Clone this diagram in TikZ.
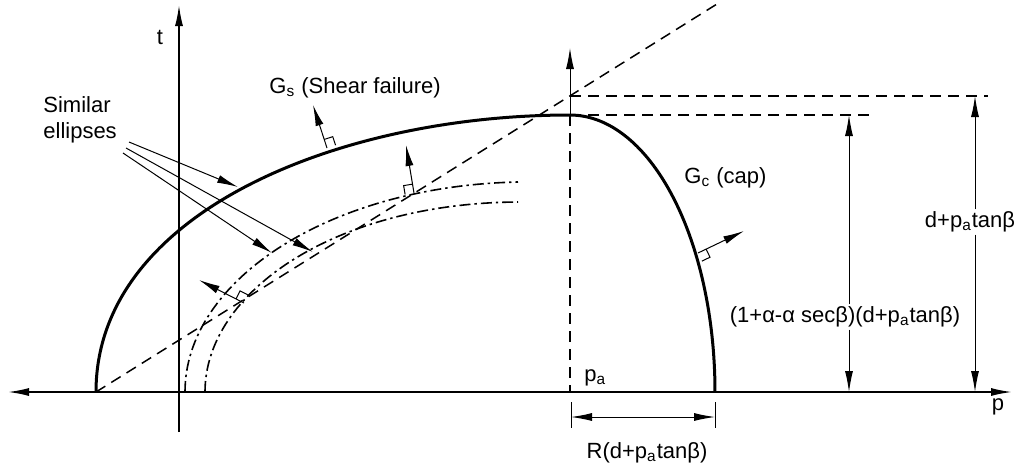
\documentclass[tikz,border=0pt]{standalone}
\usepackage{fontspec}
\setmainfont{Liberation Sans}
\usetikzlibrary{arrows.meta,calc}
\begin{document}
\begin{tikzpicture}[x=0.5pt,y=-0.5pt,
  lbl/.style={font=\fontsize{11}{13}\selectfont, inner sep=1pt},
  axisline/.style={line width=0.8pt},
  curve/.style={line width=1.5pt},
  dashln/.style={line width=0.75pt, dash pattern=on 5.5pt off 3.5pt},
  dashdot/.style={line width=0.8pt, dash pattern=on 5.5pt off 2pt on 1.2pt off 2pt},
  tip/.style={-{Latex[length=10.5pt,width=4pt]}},
  arr/.style={line width=0.5pt, tip},
  darr/.style={line width=0.5pt, {Latex[length=10.5pt,width=4pt]}-{Latex[length=10.5pt,width=4pt]}},
  boxln/.style={line width=0.5pt}]
\useasboundingbox (0,0) rectangle (1018,472);

% axes
\coordinate (pleft) at (8,392);
\coordinate (pright) at (1012,392);
\coordinate (tbot) at (179,432);
\coordinate (ttop) at (179,5);
\draw[axisline, {Latex[length=10.5pt,width=4pt]}-{Latex[length=10.5pt,width=4pt]}] (pleft) -- (pright);
\draw[axisline, tip] (tbot) -- (ttop);

% key points
\coordinate (apex) at (96,392);
\coordinate (pk) at (570,115);
\coordinate (capend) at (715,392);
\coordinate (dtop) at (717,4);
\coordinate (pkup) at (570,48);
\coordinate (pkdash) at (570,96);
\coordinate (pax) at (570,392);
\coordinate (aA) at (185,392);
\coordinate (eA) at (518,182);
\coordinate (aB) at (205,392);
\coordinate (eB) at (518,202);

% shear failure surface
\draw[curve] (apex) .. controls (96,212) and (340,115) .. (pk);
% cap
\draw[curve] plot[domain=0:90, samples=60] ({570+145*sin(\x)}, {392-277*cos(\x)});

% similar ellipses
\draw[dashdot] (aA) .. controls (185,280) and (330,186) .. (eA);
\draw[dashdot] (aB) .. controls (205,292) and (335,203) .. (eB);

% dashed lines
\draw[dashln] (apex) -- (dtop);
\draw[dashln] (pk) -- (pax);
\coordinate (h1) at (988,96);
\coordinate (h2) at (872,115);
\draw[dashln] (pkdash) -- (h1);
\draw[dashln] (pk) -- (h2);

% normal at peak
\draw[arr] (pk) -- (pkup);

% normals with right-angle marks
\coordinate (f1) at (327,148); \coordinate (n1) at (313,105);
\coordinate (f2) at (414,193); \coordinate (n2) at (406,145);
\coordinate (f3) at (244,303); \coordinate (n3) at (199,280);
\coordinate (f4) at (698,253); \coordinate (n4) at (744,231);
\draw[arr] (f1) -- (n1);
\draw[arr] (f2) -- (n2);
\draw[arr] (f3) -- (n3);
\draw[arr] (f4) -- (n4);
\path ($(f1)!4.5pt!(n1)$) coordinate (b1a) ($(b1a)!4.5pt!-90:(n1)$) coordinate (b1b) ($(f1)!4.5pt!-90:(n1)$) coordinate (b1c);
\path ($(f2)!4.5pt!(n2)$) coordinate (b2a) ($(b2a)!4.5pt!90:(n2)$) coordinate (b2b) ($(f2)!4.5pt!90:(n2)$) coordinate (b2c);
\path ($(f3)!4.5pt!(n3)$) coordinate (b3a) ($(b3a)!4.5pt!-90:(n3)$) coordinate (b3b) ($(f3)!4.5pt!-90:(n3)$) coordinate (b3c);
\path ($(f4)!4.5pt!(n4)$) coordinate (b4a) ($(b4a)!4.5pt!-90:(n4)$) coordinate (b4b) ($(f4)!4.5pt!-90:(n4)$) coordinate (b4c);
\draw[boxln] (b1a) -- (b1b) -- (b1c);
\draw[boxln] (b2a) -- (b2b) -- (b2c);
\draw[boxln] (b3a) -- (b3b) -- (b3c);
\draw[boxln] (b4a) -- (b4b) -- (b4c);

% labels
\node[lbl] (tl) at (160,37) {t};
\node[lbl] (pl) at (998,407) {p};
\node[lbl, anchor=west] (pal) at (582,378) {p\textsubscript{a}};
\node[lbl, anchor=west, align=left] (sim) at (41,120) {Similar\\ellipses};
\node[lbl, anchor=west] (gs) at (267,88) {G\textsubscript{s} (Shear failure)};
\node[lbl, anchor=west] (gc) at (682,178) {G\textsubscript{c} (cap)};
\node[lbl] (d1) at (845,317) {(1+α-α secβ)(d+p\textsubscript{a}tanβ)};
\node[lbl] (d2) at (970,222) {d+p\textsubscript{a}tanβ};
\node[lbl] (rl) at (647,453) {R(d+p\textsubscript{a}tanβ)};

% similar-ellipse pointers
\coordinate (s1) at (129,142); \coordinate (e1) at (238,187);
\coordinate (s2) at (126,148); \coordinate (e2) at (313,252);
\coordinate (s3) at (123,153); \coordinate (e3) at (272,253);
\draw[arr] (s1) -- (e1);
\draw[arr] (s2) -- (e2);
\draw[arr] (s3) -- (e3);

% dimension lines
\coordinate (d1t) at (849,115); \coordinate (d1b) at (849,392);
\draw[arr] (d1.north -| d1t) -- (d1t);
\draw[arr] (d1.south -| d1b) -- (d1b);
\coordinate (d2t) at (975,96); \coordinate (d2b) at (975,392);
\draw[arr] (d2.north -| d2t) -- (d2t);
\draw[arr] (d2.south -| d2b) -- (d2b);
\coordinate (ra) at (571,417); \coordinate (rb) at (715,417);
\draw[darr] (ra) -- (rb);
\coordinate (ra1) at (571,402); \coordinate (ra2) at (571,428);
\coordinate (rb1) at (715,402); \coordinate (rb2) at (715,428);
\draw[line width=0.5pt] (ra1) -- (ra2);
\draw[line width=0.5pt] (rb1) -- (rb2);
\end{tikzpicture}
\end{document}
